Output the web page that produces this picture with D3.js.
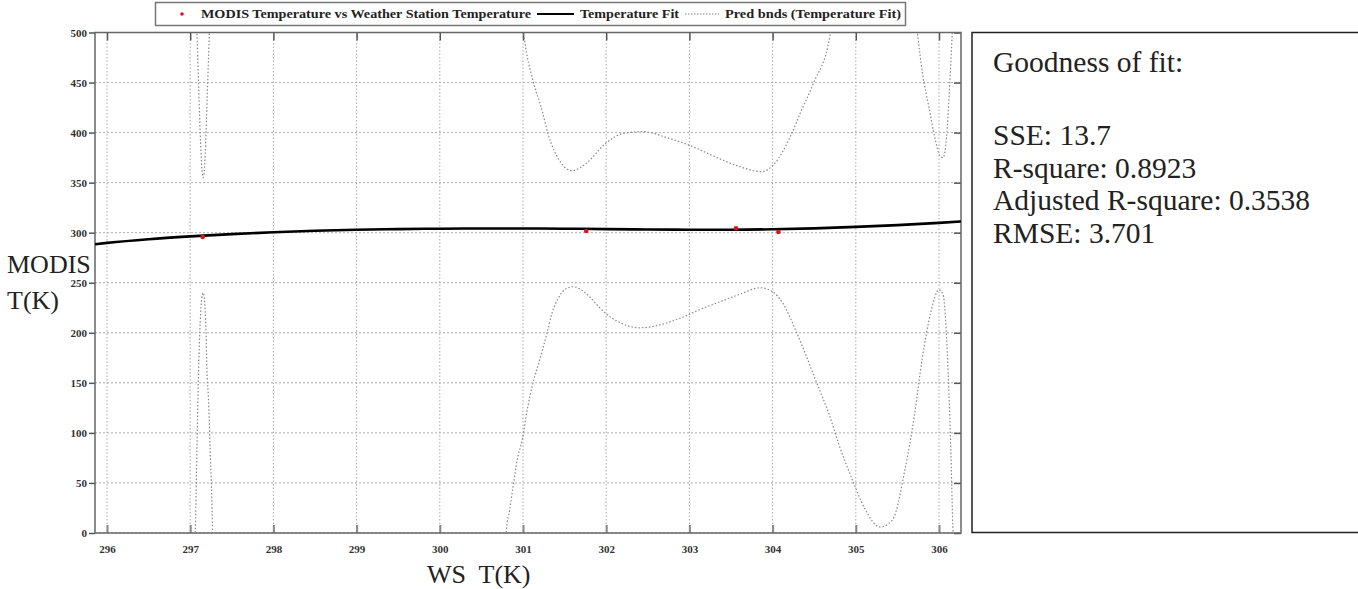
<!DOCTYPE html>
<html>
  <head>
    <meta charset="utf-8">
    <style>
    body { margin: 0; background: #fff; }
    svg { display: block; }
    .tick-label { font-family: "Liberation Serif", serif; font-weight: bold; font-size: 11px; fill: #333; }
    .axis-title { font-family: "Liberation Serif", serif; font-size: 26px; fill: #222; }
    .legend-text { font-family: "Liberation Serif", serif; font-weight: bold; font-size: 12px; fill: #222; }
    .gof-text { font-family: "Liberation Serif", serif; font-size: 29.5px; fill: #222; }
    </style>
  </head>
  <body>
    <div id="chart-area"></div>

    <script src="https://d3js.org/d3.v7.min.js"></script>
    <script>
      // ticks
      const xTicks = [296, 297, 298, 299, 300, 301, 302, 303, 304, 305, 306];
      const yTicks = [0, 50, 100, 150, 200, 250, 300, 350, 400, 450, 500];

      // measured points
      const wsTemp = [297.15, 301.76, 303.56, 304.07];
      const modisTemp = [295.7, 301.7, 304.4, 300.7];

      // fitted curve
      const fitX = [295.856, 296, 296.5, 297, 297.5, 298, 298.5, 299, 299.5, 300, 300.5, 301, 301.5,
                    302, 302.5, 303, 303.5, 304, 304.5, 305, 305.5, 306, 306.27];
      const fitY = [288.5, 289.8, 293.5, 296.3, 298.6, 300.5, 302.0, 303.0, 303.6, 304.0, 304.2, 304.2, 304.0,
                    303.6, 303.2, 303.0, 303.0, 303.4, 304.3, 305.8, 307.6, 309.8, 311.2];

      // prediction bounds, one array per visible piece
      const upperLeft = [[297.06, 530], [297.08, 500], [297.10, 450], [297.12, 400], [297.14, 365],
                         [297.155, 355], [297.17, 362], [297.19, 400], [297.21, 450], [297.23, 500], [297.24, 530]];
      const lowerLeft = [[297.05, -10], [297.06, 0], [297.08, 80], [297.10, 160], [297.12, 210], [297.14, 235],
                         [297.155, 240], [297.17, 234], [297.19, 200], [297.20, 166], [297.22, 133],
                         [297.24, 83], [297.26, 33], [297.27, 0], [297.275, -10]];
      const upperMid = [[300.97, 530], [301.02, 492], [301.12, 452], [301.23, 422], [301.30, 399], [301.44, 372],
                        [301.59, 362], [301.77, 370], [301.99, 389], [302.20, 399], [302.44, 401], [302.73, 395],
                        [303.01, 387], [303.28, 377], [303.57, 367], [303.87, 361], [304.00, 367], [304.23, 399],
                        [304.33, 419], [304.49, 449], [304.69, 497], [304.72, 530]];
      const lowerMid = [[300.79, -10], [300.80, 3], [300.84, 23], [300.88, 46], [300.93, 73], [300.99, 93],
                        [301.05, 123], [301.12, 150], [301.20, 173], [301.29, 200], [301.35, 220], [301.42, 234],
                        [301.50, 243], [301.60, 246], [301.70, 243], [301.80, 236], [301.90, 227], [302.00, 219],
                        [302.17, 210], [302.41, 205], [302.65, 208], [302.90, 215], [303.15, 224], [303.40, 232],
                        [303.62, 239], [303.85, 245], [304.00, 241], [304.12, 230], [304.29, 200], [304.53, 150],
                        [304.69, 116], [304.79, 90], [304.95, 55], [305.11, 24], [305.29, 6], [305.44, 13],
                        [305.59, 63], [305.70, 115], [305.80, 175], [305.90, 220], [306.00, 243], [306.05, 238],
                        [306.10, 180], [306.14, 90], [306.17, 0], [306.18, -10]];
      const upperRight = [[305.70, 530], [305.74, 500], [305.80, 460], [305.88, 425], [305.95, 395], [306.01, 377],
                          [306.05, 375], [306.09, 395], [306.13, 450], [306.16, 500], [306.18, 530]];

      const gofLines = ["SSE: 13.7", "R-square: 0.8923", "Adjusted R-square: 0.3538", "RMSE: 3.701"];

      const width = 1358;
      const height = 589;
      const plot = { left: 95, right: 961, top: 32.5, bottom: 533 };

      const svg = d3.select("#chart-area")
        .append("svg")
          .attr("width", width)
          .attr("height", height);

      const x = d3.scaleLinear()
        .domain([296 - 12 / 83.2, 296 + (plot.right - 107) / 83.2])
        .range([plot.left, plot.right]);

      const y = d3.scaleLinear()
        .domain([0, 500])
        .range([plot.bottom, plot.top]);

      svg.append("clipPath")
          .attr("id", "plot-clip")
        .append("rect")
          .attr("x", plot.left)
          .attr("y", plot.top)
          .attr("width", plot.right - plot.left)
          .attr("height", plot.bottom - plot.top);

      // grid
      svg.append("g").selectAll("line")
        .data(xTicks)
        .enter().append("line")
          .attr("x1", d => x(d)).attr("x2", d => x(d))
          .attr("y1", plot.top).attr("y2", plot.bottom)
          .attr("stroke", "#aaa")
          .attr("stroke-width", 1)
          .attr("stroke-dasharray", "1.5,2");

      svg.append("g").selectAll("line")
        .data(yTicks)
        .enter().append("line")
          .attr("x1", plot.left).attr("x2", plot.right)
          .attr("y1", d => y(d)).attr("y2", d => y(d))
          .attr("stroke", "#aaa")
          .attr("stroke-width", 1)
          .attr("stroke-dasharray", "2,2");

      // axes
      const xAxisBottom = d3.axisBottom(x).tickValues(xTicks).tickSizeInner(-8).tickSizeOuter(0).tickPadding(12);
      const xAxisTop = d3.axisTop(x).tickValues(xTicks).tickSizeInner(-8).tickSizeOuter(0).tickFormat("");
      const yAxisLeft = d3.axisLeft(y).tickValues(yTicks).tickSizeInner(6).tickSizeOuter(0).tickPadding(2);
      const yAxisRight = d3.axisRight(y).tickValues(yTicks).tickSizeInner(-7).tickSizeOuter(0).tickFormat("");

      const gx = svg.append("g")
        .attr("transform", `translate(0, ${plot.bottom})`)
        .call(xAxisBottom);
      svg.append("g")
        .attr("transform", `translate(0, ${plot.top})`)
        .call(xAxisTop);
      const gy = svg.append("g")
        .attr("transform", `translate(${plot.left}, 0)`)
        .call(yAxisLeft);
      svg.append("g")
        .attr("transform", `translate(${plot.right}, 0)`)
        .call(yAxisRight);

      svg.selectAll(".domain").remove();
      svg.selectAll(".tick line").attr("stroke", "#555").attr("stroke-width", 1.5);
      gx.selectAll(".tick line").attr("stroke", "#888").attr("stroke-width", 2);
      svg.selectAll(".tick text").attr("class", "tick-label").attr("font-family", null).attr("font-size", null);
      gy.selectAll(".tick text").attr("dy", "0.35em");

      // frame
      svg.append("rect")
        .attr("x", plot.left)
        .attr("y", plot.top)
        .attr("width", plot.right - plot.left)
        .attr("height", plot.bottom - plot.top)
        .attr("fill", "none")
        .attr("stroke", "#666")
        .attr("stroke-width", 1.5);

      const plotArea = svg.append("g").attr("clip-path", "url(#plot-clip)");

      // prediction bounds
      const boundLine = d3.line()
        .x(d => x(d[0]))
        .y(d => y(d[1]))
        .curve(d3.curveMonotoneX);

      [upperLeft, lowerLeft, upperMid, lowerMid, upperRight].forEach(seg => {
        plotArea.append("path")
          .attr("d", boundLine(seg))
          .attr("fill", "none")
          .attr("stroke", "#888")
          .attr("stroke-width", 1.2)
          .attr("stroke-dasharray", "1.5,2");
      });

      // fit
      const fitLine = d3.line()
        .x((d, i) => x(fitX[i]))
        .y(d => y(d))
        .curve(d3.curveMonotoneX);

      plotArea.append("path")
        .attr("d", fitLine(fitY))
        .attr("fill", "none")
        .attr("stroke", "#000")
        .attr("stroke-width", 2.6);

      // points
      plotArea.selectAll("circle")
        .data(wsTemp)
        .enter().append("circle")
          .attr("cx", d => x(d))
          .attr("cy", (d, i) => y(modisTemp[i]))
          .attr("r", 2.3)
          .attr("fill", "#d9141c");

      // axis titles
      const yTitle = svg.append("text").attr("class", "axis-title");
      yTitle.append("tspan").attr("x", 7).attr("y", 273).text("MODIS");
      yTitle.append("tspan").attr("x", 7).attr("y", 309).text("T(K)");

      svg.append("text")
        .attr("class", "axis-title")
        .attr("x", 427)
        .attr("y", 583)
        .attr("xml:space", "preserve")
        .style("white-space", "pre")
        .text("WS  T(K)");

      // legend
      const legend = svg.append("g");
      legend.append("rect")
        .attr("x", 155.5).attr("y", 2.5)
        .attr("width", 750).attr("height", 23)
        .attr("fill", "#fff")
        .attr("stroke", "#777")
        .attr("stroke-width", 1.5);
      legend.append("circle")
        .attr("cx", 182).attr("cy", 14).attr("r", 1.8)
        .attr("fill", "#d9141c");
      legend.append("text")
        .attr("class", "legend-text")
        .attr("x", 201).attr("y", 18)
        .attr("textLength", 330).attr("lengthAdjust", "spacingAndGlyphs")
        .text("MODIS Temperature vs Weather Station Temperature");
      legend.append("line")
        .attr("x1", 537).attr("x2", 574).attr("y1", 14).attr("y2", 14)
        .attr("stroke", "#000").attr("stroke-width", 2);
      legend.append("text")
        .attr("class", "legend-text")
        .attr("x", 580).attr("y", 18)
        .attr("textLength", 99).attr("lengthAdjust", "spacingAndGlyphs")
        .text("Temperature Fit");
      legend.append("line")
        .attr("x1", 685).attr("x2", 719).attr("y1", 14).attr("y2", 14)
        .attr("stroke", "#888").attr("stroke-width", 1)
        .attr("stroke-dasharray", "1.5,1.5");
      legend.append("text")
        .attr("class", "legend-text")
        .attr("x", 725).attr("y", 18)
        .attr("textLength", 176).attr("lengthAdjust", "spacingAndGlyphs")
        .text("Pred bnds (Temperature Fit)");

      // goodness of fit box (runs past the right edge of the page)
      svg.append("rect")
        .attr("x", 972).attr("y", 32.5)
        .attr("width", 460).attr("height", 500)
        .attr("fill", "none")
        .attr("stroke", "#222")
        .attr("stroke-width", 1.5);

      svg.append("text")
        .attr("class", "gof-text")
        .attr("x", 993).attr("y", 72)
        .text("Goodness of fit:");

      svg.append("g").selectAll("text")
        .data(gofLines)
        .enter().append("text")
          .attr("class", "gof-text")
          .attr("x", 993)
          .attr("y", (d, i) => 145 + i * 32.7)
          .text(d => d);
    </script>
  </body>
</html>
